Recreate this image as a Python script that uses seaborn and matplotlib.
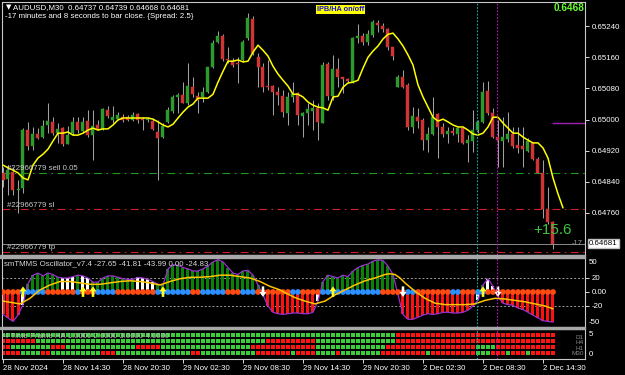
import numpy as np
import matplotlib
matplotlib.use('Agg')
import matplotlib.pyplot as plt
from matplotlib.patches import Rectangle, FancyArrow
import seaborn as sns

sns.set_theme(style='dark', rc={'axes.facecolor': 'black', 'figure.facecolor': 'black',
                                'axes.grid': False})
plt.rcParams['font.family'] = ['Liberation Sans', 'DejaVu Sans']

# ---------------- data ----------------
opens = [0.64863, 0.64847, 0.64865, 0.64819, 0.64824, 0.64973, 0.64932, 0.64963, 0.64955, 0.64986,
         0.64994, 0.64965, 0.64978, 0.64937, 0.64965, 0.64994, 0.64970, 0.64996, 0.64960, 0.64986,
         0.64976, 0.65024, 0.64999, 0.65001, 0.65006, 0.65006, 0.64999, 0.65014, 0.65001, 0.64999,
         0.64996, 0.64968, 0.64955, 0.64994, 0.65022, 0.65058, 0.65063, 0.65042, 0.65083, 0.65060,
         0.65058, 0.65071, 0.65135, 0.65199, 0.65214, 0.65155, 0.65150, 0.65145, 0.65153, 0.65209,
         0.65258, 0.65160, 0.65135, 0.65086, 0.65086, 0.65071, 0.65060, 0.65017, 0.65058, 0.65068,
         0.65009, 0.65017, 0.65022, 0.65030, 0.64991, 0.65142, 0.65060, 0.65130, 0.65109, 0.65104,
         0.65096, 0.65209, 0.65214, 0.65199, 0.65217, 0.65248, 0.65240, 0.65232, 0.65186, 0.65083,
         0.65109, 0.65089, 0.64981, 0.65006, 0.64999, 0.64947, 0.64963, 0.65014, 0.64981, 0.64963,
         0.64970, 0.64963, 0.64978, 0.64940, 0.64945, 0.64973, 0.64994, 0.65073, 0.65017, 0.64955,
         0.64945, 0.64950, 0.64963, 0.64935, 0.64932, 0.64919, 0.64940, 0.64899, 0.64863, 0.64770,
         0.64737]
highs = [0.64878, 0.64883, 0.64878, 0.64845, 0.64978, 0.64994, 0.64981, 0.64978, 0.64999, 0.65042,
         0.65006, 0.64991, 0.64981, 0.64983, 0.65006, 0.65006, 0.65006, 0.65024, 0.65024, 0.64999,
         0.65030, 0.65035, 0.65035, 0.65019, 0.65014, 0.65012, 0.65019, 0.65017, 0.65006, 0.65006,
         0.65004, 0.64999, 0.64991, 0.65032, 0.65063, 0.65068, 0.65096, 0.65145, 0.65109, 0.65071,
         0.65083, 0.65135, 0.65204, 0.65227, 0.65219, 0.65186, 0.65158, 0.65160, 0.65204, 0.65273,
         0.65266, 0.65171, 0.65145, 0.65153, 0.65089, 0.65083, 0.65076, 0.65071, 0.65096, 0.65071,
         0.65019, 0.65042, 0.65050, 0.65042, 0.65148, 0.65148, 0.65166, 0.65158, 0.65109, 0.65107,
         0.65212, 0.65245, 0.65222, 0.65230, 0.65255, 0.65255, 0.65248, 0.65235, 0.65186, 0.65114,
         0.65127, 0.65094, 0.65032, 0.65030, 0.65004, 0.64981, 0.65058, 0.65017, 0.64991, 0.64981,
         0.64981, 0.64981, 0.64981, 0.64960, 0.65024, 0.64999, 0.65096, 0.65099, 0.65030, 0.64999,
         0.65006, 0.65019, 0.64981, 0.64981, 0.64981, 0.64953, 0.64942, 0.64904, 0.64896, 0.64827,
         0.64739]
lows = [0.64827, 0.64806, 0.64806, 0.64760, 0.64811, 0.64922, 0.64922, 0.64950, 0.64953, 0.64965,
        0.64960, 0.64940, 0.64932, 0.64937, 0.64960, 0.64965, 0.64965, 0.64955, 0.64896, 0.64973,
        0.64973, 0.65004, 0.64991, 0.64999, 0.64994, 0.64996, 0.64996, 0.64991, 0.64973, 0.64994,
        0.64973, 0.64845, 0.64953, 0.64991, 0.65017, 0.65017, 0.65042, 0.65037, 0.65058, 0.65017,
        0.65045, 0.65068, 0.65132, 0.65196, 0.65150, 0.65145, 0.65135, 0.65094, 0.65148, 0.65204,
        0.65166, 0.65083, 0.65071, 0.65076, 0.65012, 0.65037, 0.65006, 0.64986, 0.65045, 0.64986,
        0.64955, 0.64986, 0.64973, 0.64947, 0.64991, 0.65050, 0.65050, 0.65083, 0.65068, 0.65094,
        0.65094, 0.65196, 0.65191, 0.65191, 0.65212, 0.65225, 0.65225, 0.65178, 0.65153, 0.65083,
        0.65081, 0.64973, 0.64965, 0.64978, 0.64922, 0.64917, 0.64960, 0.64901, 0.64955, 0.64940,
        0.64960, 0.64942, 0.64937, 0.64891, 0.64917, 0.64965, 0.64991, 0.65012, 0.64953, 0.64878,
        0.64878, 0.64942, 0.64927, 0.64914, 0.64878, 0.64917, 0.64896, 0.64863, 0.64747, 0.64732,
        0.64668]
closes = [0.64845, 0.64870, 0.64819, 0.64822, 0.64973, 0.64932, 0.64963, 0.64953, 0.64983, 0.64996,
          0.64965, 0.64976, 0.64937, 0.64960, 0.64994, 0.64973, 0.64994, 0.64960, 0.64983, 0.64976,
          0.65027, 0.65009, 0.65006, 0.65012, 0.64999, 0.64999, 0.65012, 0.64999, 0.64999, 0.65001,
          0.64976, 0.64953, 0.64983, 0.65024, 0.65058, 0.65063, 0.65042, 0.65086, 0.65065, 0.65050,
          0.65071, 0.65135, 0.65196, 0.65214, 0.65155, 0.65153, 0.65140, 0.65142, 0.65199, 0.65261,
          0.65171, 0.65135, 0.65083, 0.65083, 0.65071, 0.65063, 0.65019, 0.65058, 0.65065, 0.65012,
          0.65017, 0.65027, 0.65030, 0.64994, 0.65140, 0.65060, 0.65130, 0.65109, 0.65104, 0.65099,
          0.65209, 0.65214, 0.65199, 0.65219, 0.65250, 0.65243, 0.65232, 0.65186, 0.65163, 0.65109,
          0.65083, 0.64981, 0.65009, 0.64996, 0.64947, 0.64963, 0.65006, 0.64981, 0.64963, 0.64970,
          0.64965, 0.64978, 0.64940, 0.64947, 0.64973, 0.64994, 0.65071, 0.65017, 0.64955, 0.64947,
          0.64955, 0.64963, 0.64932, 0.64927, 0.64924, 0.64945, 0.64899, 0.64863, 0.64770, 0.64737,
          0.64681]
# shifted moving average (extends 2 bars past the last candle)
ma_line = [0.64883, 0.64876, 0.64870, 0.64863, 0.64850, 0.64845, 0.64883, 0.64901, 0.64911, 0.64924,
           0.64945, 0.64965, 0.64965, 0.64968, 0.64960, 0.64960, 0.64965, 0.64973, 0.64978, 0.64973,
           0.64976, 0.64976, 0.64986, 0.64999, 0.65004, 0.65004, 0.65004, 0.65004, 0.65004, 0.65004,
           0.65001, 0.64994, 0.64986, 0.64981, 0.64988, 0.65004, 0.65019, 0.65032, 0.65040, 0.65055,
           0.65055, 0.65055, 0.65065, 0.65096, 0.65124, 0.65150, 0.65150, 0.65153, 0.65148, 0.65150,
           0.65173, 0.65191, 0.65178, 0.65163, 0.65137, 0.65117, 0.65101, 0.65086, 0.65065, 0.65065,
           0.65058, 0.65045, 0.65037, 0.65032, 0.65030, 0.65024, 0.65058, 0.65060, 0.65083, 0.65094,
           0.65096, 0.65101, 0.65132, 0.65160, 0.65176, 0.65189, 0.65207, 0.65219, 0.65222, 0.65207,
           0.65189, 0.65166, 0.65140, 0.65089, 0.65058, 0.65032, 0.65006, 0.64996, 0.65001, 0.64994,
           0.64986, 0.64981, 0.64981, 0.64973, 0.64963, 0.64960, 0.64965, 0.64981, 0.65006, 0.65006,
           0.64991, 0.64978, 0.64965, 0.64965, 0.64955, 0.64947, 0.64940, 0.64940, 0.64927, 0.64901,
           0.64850, 0.64809, 0.64773]

price_ticks = [0.65240, 0.65160, 0.65080, 0.65000, 0.64920, 0.64840, 0.64760]
sell_price, sl_price, tp_price, bid_price = 0.64863, 0.64770, 0.64660, 0.64681
pivot_price = 0.64991

x_tick_pos = [0, 12, 24, 36, 48, 60, 72, 84, 96, 108]
x_tick_labels = ['28 Nov 2024', '28 Nov 14:30', '28 Nov 20:30', '29 Nov 02:30', '29 Nov 08:30',
                 '29 Nov 14:30', '29 Nov 20:30', '2 Dec 02:30', '2 Dec 08:30', '2 Dec 14:30']
marker_bars = {'cyan': 94.8, 'magenta': 98.8}

# oscillator histogram
osc_hist = [-32, -37, -42, -33, -18, 12, 24, 27, 23, 27, 25, 21, 20, 20, 22, 24, 23, 20, 14, 14,
            20, 23, 23, 21, 19, 18, 18, 21, 20, 18, 15, 11, 10, 33, 39, 38, 35, 33, 30, 30,
            33, 37, 43, 46, 43, 35, 27, 25, 30, 31, 24, 10, -4, -20, -29, -31, -32, -31, -30, -30,
            -31, -31, -29, -13, 15, 24, 22, 20, 24, 22, 30, 35, 38, 40, 44, 46, 45, 37, 25, -4,
            -32, -39, -39, -36, -33, -31, -32, -31, -29, -29, -30, -30, -29, -26, -20, -12, 10, 19, 8, -6,
            -16, -18, -19, -23, -25, -29, -33, -37, -41, -42, -43]
osc_hist_col = ('r' * 4 + 'w' + 'g' * 7 + 'w' * 3 + 'g' + 'w' * 2 + 'g' * 9 + 'w' * 4 + 'g' * 21 + 'w'
                + 'r' * 10 + 'w' + 'g' * 15 + 'r' * 16 + 'w' + 'g' + 'w' * 2 + 'r' * 12)
osc_dot_col = ('r' * 4 + 'b' * 5 + 'r' * 6 + 'b' + 'r' * 3 + 'b' * 4 + 'r' * 8 + 'b' * 7 + 'r' * 2
               + 'b' * 5 + 'r' * 3 + 'b' * 3 + 'r' * 7 + 'b' * 2 + 'r' * 4 + 'b' * 12 + 'r' * 5
               + 'b' * 2 + 'r' * 7 + 'b' * 2 + 'r' * 3 + 'b' * 2 + 'r' * 14)
sig_x = [0, 3.4, 5.4, 7.4, 9.4, 11.4, 13.4, 15.4, 17.4, 19.4, 21.4, 23.4, 25.4, 27.4, 29.4, 31.4,
         33.4, 35.4, 37.4, 39.4, 41.4, 43.4, 45.4, 47.4, 49.4, 51.4, 53.4, 55.4, 56.4, 58.4, 60.4,
         62.4, 64.4, 66.4, 68.4, 70.4, 72.4, 74.4, 76.4, 77.4, 78.4, 79.4, 80.4, 82.4, 84.4, 86.4,
         88.4, 90.4, 92.4, 94.4, 96.4, 98.4, 100.4, 102.4, 104.4, 106.4, 108.4, 110]
sig_v = [-13, -17, -9, 3, 10, 15, 15, 13, 11, 11, 13, 15, 16, 15, 13, 10,
         15, 19, 21, 21, 22, 24, 24, 22, 20, 15, 8, 3, -1, -8, -13,
         -17, -13, -4, 3, 10, 16, 20, 25, 26, 25, 20, 13, 1, -9, -16,
         -18, -18, -18, -17, -12, -9, -10, -12, -14, -17, -20, -24]
up_arrow_bars = [4, 16, 18, 32, 66, 96]
down_arrow_bars = [52, 80, 99]

# 4 time frame HA rows (g = up, r = down)
ha_d1 = 'g' * 79 + 'r' * 32
ha_h4 = 'r' * 7 + 'g' * 46 + 'r' * 10 + 'g' * 16 + 'r' * 32
ha_h1 = 'r' * 2 + 'g' * 8 + 'r' * 3 + 'g' * 14 + 'r' * 5 + 'g' * 18 + 'r' * 13 + 'g' * 14 + 'r' * 18 + 'g' * 4 + 'r' * 12
ha_m30 = ('r' * 4 + 'g' * 4 + 'r' * 2 + 'g' * 10 + 'r' * 3 + 'g' * 15 + 'r' * 2 + 'g' * 11 + 'r' * 7 + 'g'
          + 'r' * 4 + 'g' * 4 + 'r' + 'g' * 8 + 'r' * 9 + 'g' + 'r' * 9 + 'g' * 3 + 'r' * 3 + 'g' + 'r' * 3
          + 'g' + 'r' * 5)
ha_rows = {4: ha_d1, 3: ha_h4, 2: ha_h1, 1: ha_m30}
ha_row_names = ['D1', 'H4', 'H1', 'M30']

# ---------------- figure ----------------
W, H = 625, 375
fig = plt.figure(figsize=(W / 100, H / 100), dpi=100, facecolor='black')


def rect(x0, y0, x1, y1):
    return [x0 / W, 1 - y1 / H, (x1 - x0) / W, (y1 - y0) / H]


def ftext(x, y, s, **kw):
    kw.setdefault('color', 'white')
    kw.setdefault('fontsize', 5.7)
    kw.setdefault('va', 'center')
    return fig.text(x / W, 1 - y / H, s, **kw)


ax = fig.add_axes(rect(2, 2, 585, 255))
axo = fig.add_axes(rect(2, 257, 585, 327))
axh = fig.add_axes(rect(2, 329, 585, 359))
XL = (-0.2, 116.4)
for a in (ax, axo, axh):
    a.set_facecolor('black')
    a.set_xlim(*XL)
    for sp in a.spines.values():
        sp.set_color('#c8c8c8')
        sp.set_linewidth(0.8)
    a.tick_params(axis='x', bottom=False, labelbottom=False)
    a.yaxis.tick_right()
    a.tick_params(axis='y', colors='white', labelsize=5.7, length=3, width=0.6, pad=1.5,
                  right=True, left=False, labelright=True, labelleft=False)

# ---- main price panel ----
n = len(opens)
xs = np.arange(n)
o = np.array(opens); c = np.array(closes); h = np.array(highs); l = np.array(lows)
cols = ['#2c9a2c' if cc >= oo else '#d03535' for oo, cc in zip(o, c)]
ax.vlines(xs, l, h, color='#a0a0a0', lw=0.75, zorder=2)
body_b = np.minimum(o, c)
body_h = np.maximum(np.abs(c - o), 0.000015)
ax.bar(xs, body_h, bottom=body_b, width=0.6, color=cols, edgecolor=cols, lw=0.3, zorder=3)
sns.lineplot(x=np.arange(len(ma_line)), y=ma_line, ax=ax, color='#ffff00', lw=1.1, zorder=4)

ax.axhline(sell_price, color='#1f9a1f', lw=0.8, ls=(0, (7, 4, 1.5, 4)), zorder=1)
ax.axhline(sl_price, color='#d02020', lw=0.8, ls=(0, (7, 4, 1.5, 4)), zorder=1)
ax.axhline(tp_price, color='#d02020', lw=0.8, ls=(0, (7, 4, 1.5, 4)), zorder=1)
ax.axhline(bid_price, color='#8a8a8a', lw=0.7, zorder=1)
ax.hlines(pivot_price, 109.8, XL[1], color='#a020b0', lw=1.0)
ax.set_ylim(0.64652, 0.65302)
ax.set_yticks(price_ticks)
ax.set_yticklabels([f'{p:.5f}' for p in price_ticks])
ax.set_xlabel(''); ax.set_ylabel('')

# ---- oscillator panel ----
hx = np.arange(len(osc_hist))
hcol_map = {'g': '#0a820a', 'w': '#ffffff', 'r': '#ff1010'}
axo.bar(hx, osc_hist, width=0.6, color=[hcol_map[k] for k in osc_hist_col], lw=0, zorder=2)
axo.plot(hx, osc_hist, color='#9a30d0', lw=0.9, zorder=3)
axo.axhline(20, color='#9a9a9a', lw=0.7, ls=(0, (2, 2)), zorder=1)
axo.axhline(-20, color='#9a9a9a', lw=0.7, ls=(0, (2, 2)), zorder=1)
dot_lab = np.array(list(osc_dot_col))
sns.scatterplot(x=hx, y=np.zeros(len(hx)), hue=dot_lab, palette={'r': '#ff4a10', 'b': '#2a90ff'},
                s=17, linewidth=0, legend=False, ax=axo, zorder=4)
sns.lineplot(x=sig_x, y=sig_v, ax=axo, color='#ffc400', lw=1.1, zorder=5)
for b in up_arrow_bars:
    axo.add_patch(FancyArrow(b, -7, 0, 15, width=0.5, head_width=1.4, head_length=7,
                             length_includes_head=True, color='#ffff20', lw=0, zorder=6))
for b in down_arrow_bars:
    axo.add_patch(FancyArrow(b, 8, 0, -15, width=0.5, head_width=1.4, head_length=7,
                             length_includes_head=True, color='#ffffff', lw=0, zorder=6))
axo.set_ylim(-50, 50)
axo.set_yticks([20, 0, -20])
axo.set_yticklabels(['20', '0.00', '-20'])
axo.set_xlabel(''); axo.set_ylabel('')

# ---- 4 TF HA panel ----
hx_all, hy_all, hc_all = [], [], []
for row_y, row in ha_rows.items():
    for i, k in enumerate(row):
        hx_all.append(i); hy_all.append(row_y); hc_all.append(k)
sns.scatterplot(x=hx_all, y=hy_all, hue=hc_all, palette={'g': '#3ccc3c', 'r': '#ff1414'},
                marker='s', s=10.5, linewidth=0, legend=False, ax=axh, zorder=2)
axh.set_ylim(0, 5)
axh.set_yticks([])
axh.set_xlabel(''); axh.set_ylabel('')
axh.set_xticks(x_tick_pos)
axh.set_xticklabels(x_tick_labels, ha='left')
axh.tick_params(axis='x', bottom=True, labelbottom=True, colors='white', labelsize=5.7,
                length=3, width=0.6, pad=1.5)

# vertical time markers
for a in (ax, axo, axh):
    a.axvline(marker_bars['cyan'], color='#10b0b0', lw=0.8, ls=(0, (1.5, 1.5)), zorder=7)
    a.axvline(marker_bars['magenta'], color='#c010c0', lw=0.8, ls=(0, (1.5, 1.5)), zorder=7)

# separators between windows
fig.patches.append(Rectangle((0, 1 - 257.5 / H), 585 / W, 3 / H, transform=fig.transFigure,
                             color='#a8a8a8', zorder=0))
fig.patches.append(Rectangle((0, 1 - 329.2 / H), 585 / W, 2.5 / H, transform=fig.transFigure,
                             color='#a8a8a8', zorder=0))

# ---- texts ----
ftext(6, 7, '\u25bc', fontsize=5, family=['DejaVu Sans'])
ftext(13, 7.5, 'AUDUSD,M30  0.64737 0.64739 0.64668 0.64681')
ftext(5, 16.5, '-17 minutes and 8 seconds to bar close. {Spread: 2.5}')
ftext(317, 9.5, 'IPB/HA on/off', color='#1010e0', fontsize=5.3, fontweight='bold',
      bbox=dict(facecolor='#ffff00', edgecolor='none', pad=0.6))
ftext(584, 8, '0.6468', color='#66ff33', fontsize=7.2, fontweight='bold', ha='right')
ftext(7, 168.5, '#22966779 sell 0.05', color='#c8c8c8')
ftext(7, 205.5, '#22966779 sl', color='#c8c8c8')
ftext(7, 247.5, '#22966779 tp', color='#c8c8c8')
ftext(552, 230, '+15.6', color='#3cc43c', fontsize=11, ha='center')
ftext(583, 243.5, '-17', color='#a0a0a0', fontsize=5.5, ha='right')
ftext(589, 243.5, '0.64681', color='black',
      bbox=dict(facecolor='white', edgecolor='#c0c0c0', pad=0.8))
ftext(4, 263.5, 'smTMMS Oscillator_v7.4 -27.65 -41.81 -43.99 0.00 -24.83', color='#d8d8d8')
ftext(589, 263, '50')
ftext(589, 322, '-50')
ftext(4, 336, '4 Time Frame HA 1.0000 2.0000 3.0000 4.0000', color='#b8b8b8')
ftext(589, 334, '5')
ftext(589, 355, '0')
for yy, s in zip([337.5, 342.8, 348.1, 353.6], ha_row_names):
    ftext(584, yy, s, color='#8a8a8a', fontsize=4.6, ha='right')

fig.savefig('out.png', dpi=100, facecolor='black')
